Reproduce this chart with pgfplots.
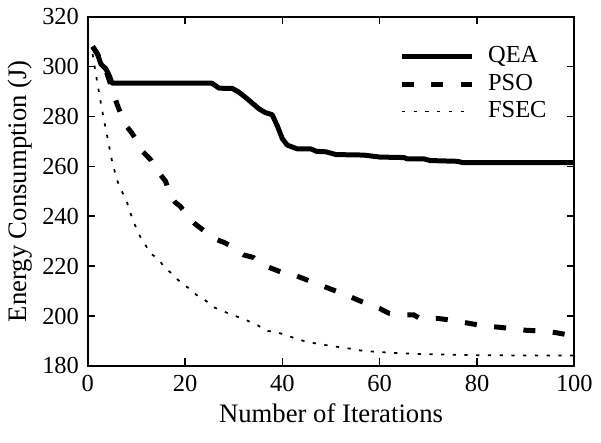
\documentclass[border=0pt]{standalone}
\usepackage{fontspec}
\setmainfont{Liberation Serif}
\usepackage{pgfplots}
\pgfplotsset{compat=1.18}
\begin{document}
\begin{tikzpicture}
\begin{axis}[
  scale only axis,
  width=195pt, height=140pt,
  xmin=0, xmax=100, ymin=180, ymax=320,
  xtick={0,20,40,60,80,100},
  ytick={180,200,220,240,260,280,300,320},
  tick align=inside,
  xtick pos=both, ytick pos=both,
  major tick length=3pt,
  axis line style={line width=0.8pt},
  every tick/.style={black, line width=0.6pt},
  /pgf/number format/assume math mode=true,
  tick label style={font=\fontsize{9.8}{11}\selectfont},
  label style={font=\fontsize{10.7}{13}\selectfont},
  xlabel={Number of Iterations},
  ylabel={Energy Consumption (J)},
  xlabel style={yshift=2pt, text depth=5pt},
  ylabel style={yshift=-3pt},
  legend style={at={(0.967,0.94)}, anchor=north east, draw=none, fill=none,
    font=\fontsize{9.8}{11}\selectfont, row sep=0pt,
    nodes={inner sep=1.5pt},
    /tikz/every odd column/.append style={column sep=4pt}},
  legend cell align=left,
  legend image code/.code={\draw[#1] (0pt,0pt) -- (28pt,0pt);},
]
\addplot[black, line width=2pt, line join=round] coordinates {
(1,308)(2,305)(2.7,301)(3.75,299)(4.4,296.5)(5,293.3)(25.5,293.3)(27,291.3)(29.7,291.2)(31,289.8)(32.5,287.5)(34,285)(35.2,283)(36.5,281.5)(37.9,280.7)(39,276)(40,271)(41,268.5)(43,267)(45.8,267)(47,266)(49,265.8)(51,264.7)(56.7,264.5)(60,263.7)(65,263.5)(65.6,263)(69,263)(70.4,262.3)(76,262)(77,261.5)(100,261.5)
};
\addlegendentry{QEA}
\addplot[black, line width=2pt, dash pattern=on 4.8pt off 7pt] coordinates {
(1,308)(2,305)(3,301)(4,297)(5,291)(6,285)(7,280)(8,276)(9,273.5)(10,270.5)(11,266.5)(12,264.5)(13,262.5)(14,259)(15,256.5)(16,254)(17,248)(18,245.5)(19,244)(20,241.5)(21,239)(22,237)(23,235.5)(24,234)(25,232.5)(26,231)(28,229.5)(29,228.5)(30,227)(32,224.5)(34,223.5)(35,222)(37,219.7)(40,217.4)(43,216)(45,214.5)(47,213)(49,211.5)(51,210)(53,209)(54,207.7)(56,206)(58,204.5)(60,203)(62,201)(64,200.5)(67,200.5)(68,199.3)(72,199)(75,198.3)(78,197.2)(80,196.5)(84,195.6)(87,195)(90,194.3)(93,194)(96,193.4)(100,192)
};
\addlegendentry{PSO}
\addplot[black, line width=0.7pt, dash pattern=on 1.3pt off 3.4pt] coordinates {
(1,305)(2,293)(3,282)(4,272)(5,262)(6,254.5)(7,250)(8,246)(9,240)(10,235)(11,231)(12,228)(13,225)(14,223.5)(15,221.5)(16,219)(17,217.5)(18,215.5)(19,213.7)(20,212)(21,211)(22,209)(23,207.5)(24,206.5)(25,205)(26,203.5)(27,202.5)(28,201.8)(29,201)(30,200.3)(31,199.5)(32,198.8)(33,198)(34,197)(35,196.2)(36,195)(37,194)(38,193.8)(39,193.4)(40,192.8)(41,192.2)(42,191.5)(43,190.6)(44,190.2)(45,189.7)(46,189.3)(47,189)(48,188.7)(49,188.3)(50,188.1)(52,187.4)(54,186.9)(56,186.2)(58,185.8)(60,185.6)(62,185.3)(65,185)(70,184.7)(75,184.5)(80,184.3)(90,184.2)(100,184.2)
};
\addlegendentry{FSEC}
\end{axis}
\end{tikzpicture}
\end{document}
